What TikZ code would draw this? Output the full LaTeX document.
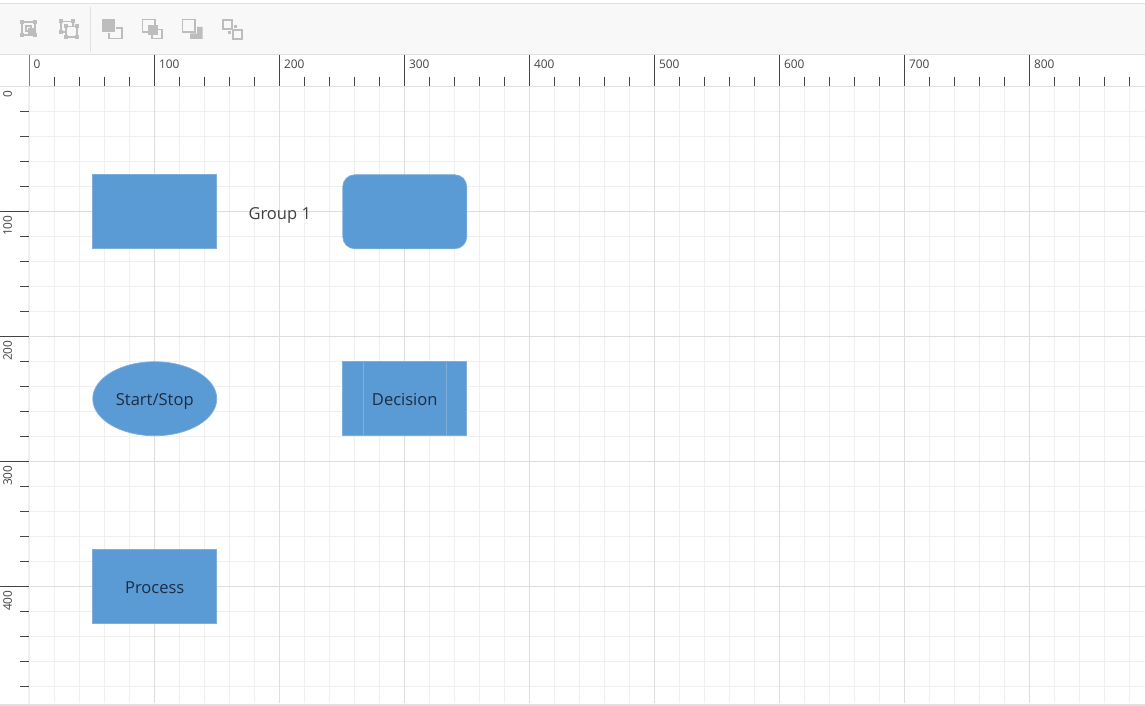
\documentclass[tikz,border=0pt]{standalone}
\usepackage{fontspec}
\setmainfont{Open Sans}
\usepackage{xcolor}
\usetikzlibrary{shapes.geometric}
\definecolor{shapeblue}{HTML}{5B9BD5}
\definecolor{shapeedge}{HTML}{7FAEDC}
\definecolor{shapetext}{HTML}{1D2C40}
\definecolor{barfill}{HTML}{F8F8F8}
\definecolor{barline}{HTML}{E0E0E0}
\definecolor{gridminor}{HTML}{EFEFEF}
\definecolor{gridmajor}{HTML}{DEDEDE}
\definecolor{tickdark}{HTML}{444444}
\definecolor{icongray}{HTML}{BDBDBD}

\begin{document}
\begin{tikzpicture}[x=0.75pt,y=-0.75pt,line cap=butt,
  flowshape/.style={fill=shapeblue,draw=shapeedge,line width=0.5pt,minimum width=93pt,minimum height=55.5pt,inner sep=0pt,outer sep=0pt,text=shapetext,font=\fontsize{12.4}{14}\selectfont,text height=13pt,text depth=2.5pt},
  rulertext/.style={inner sep=0pt,text=tickdark,font=\fontsize{8.9}{10}\selectfont},
  iconline/.style={draw=icongray,line width=0.9pt},
  iconfill/.style={fill=icongray}]
\useasboundingbox (0,0) rectangle (1145,706);
\fill[white] (0,0) rectangle (1145,706);
% toolbar
\fill[barfill] (0,4) rectangle (1145,54);
\draw[barline,line width=0.9pt] (0,3.5) -- (1145,3.5);
\draw[barline,line width=0.75pt] (0,54.5) -- (1145,54.5);
\draw[barline,line width=0.75pt] (90.5,7) -- (90.5,52);
% group icon
\draw[iconline] (22,22) rectangle (35,35);
\foreach \ix in {22,35} \foreach \iy in {22,35} \fill[iconfill] (\ix-2,\iy-2) rectangle (\ix+2,\iy+2);
\draw[iconline] (26,26) rectangle (31,31);
\draw[iconline] (29,29) rectangle (33,33);
% ungroup icon
\draw[iconline] (61,21.5) -- (73,21.5) -- (73,26);
\draw[iconline] (61,21.5) -- (61,32) -- (66,32);
\draw[iconline] (66,26.5) rectangle (77,37);
\foreach \ix/\iy in {61/21.5,73/21.5,61/32,66/26.5,77/26.5,66/37,77/37} \fill[iconfill] (\ix-2,\iy-2) rectangle (\ix+2,\iy+2);
% order icons
\fill[iconfill] (102,19) rectangle (115,32);
\draw[iconline] (116,28) -- (122,28) -- (122,38.5) -- (109,38.5) -- (109,33);
\draw[iconline] (148,32) -- (142.5,32) -- (142.5,19.5) -- (155,19.5) -- (155,25);
\fill[iconfill] (148,25) rectangle (158,35);
\draw[iconline] (158,29.5) -- (162,29.5) -- (162,38.5) -- (152,38.5) -- (152,35);
\draw[iconline] (182.5,19.5) rectangle (195,32);
\fill[iconfill] (197,27) -- (202.5,27) -- (202.5,39) -- (190,39) -- (190,33.5) -- (197,33.5) -- cycle;
\draw[iconline] (223,20) rectangle (232,29);
\fill[iconfill] (234,25) rectangle (237,28);
\fill[iconfill] (228,31) rectangle (231,34);
\draw[iconline] (233,30) rectangle (242,39);
\begin{scope}[shift={(-0.25,-0.25)}]
% grid
\foreach \gx in {30,55,...,1130} \draw[gridminor,line width=0.75pt] (\gx,87) -- (\gx,703);
\foreach \gy in {87,112,...,700} \draw[gridminor,line width=0.75pt] (30,\gy) -- (1146,\gy);
\foreach \gx in {155,280,...,1030} \draw[gridmajor,line width=0.75pt] (\gx,87) -- (\gx,703);
\foreach \gy in {212,337,462,587} \draw[gridmajor,line width=0.75pt] (30,\gy) -- (1146,\gy);
% ruler borders
\draw[barline,line width=1pt] (0,87) -- (1146,87);
\draw[gridminor,line width=1.5pt] (29.5,87) -- (29.5,704);
\fill[barline] (0,704) rectangle (1146,707);
% horizontal ruler
\draw[gray,line width=0.75pt] (30,55) -- (30,86.5);
\node[rulertext,anchor=west] (hzero) at (33.5,65) {0};
\foreach \rx/\rlabel in {155/100,280/200,405/300,530/400,655/500,780/600,905/700,1030/800} {
  \draw[tickdark,line width=0.75pt] (\rx,55) -- (\rx,86.5);
  \node[rulertext,anchor=west] (h\rlabel) at (\rx+4,65) {\rlabel};
}
\foreach \rx in {55,80,...,1130} \draw[tickdark,line width=0.75pt] (\rx,77) -- (\rx,86.5);
% vertical ruler
\node[rulertext,rotate=90,anchor=east] (vzero) at (8,90.5) {0};
\foreach \ry/\rlabel in {212/100,337/200,462/300,587/400} {
  \draw[tickdark,line width=0.75pt] (0,\ry) -- (29,\ry);
  \node[rulertext,rotate=90,anchor=east] (v\rlabel) at (8,\ry+3.5) {\rlabel};
}
\foreach \ry in {112,137,162,187,237,262,287,312,362,387,412,437,487,512,537,562,612,637,662,687} \draw[tickdark,line width=0.75pt] (20,\ry) -- (29,\ry);
% shapes
\node[flowshape] (plain) at (155,212) {};
\node[flowshape,rounded corners=9pt] (rounded) at (405,212) {};
\node[flowshape,ellipse] (startstop) at (155,399) {Start/Stop};
\node[flowshape] (decision) at (405,399) {Decision};
\draw[shapeedge,line width=0.5pt] ([xshift=15.4pt]decision.north west) -- ([xshift=15.4pt]decision.south west);
\draw[shapeedge,line width=0.5pt] ([xshift=-15.4pt]decision.north east) -- ([xshift=-15.4pt]decision.south east);
\node[flowshape] (process) at (155,587) {Process};
\node[inner sep=0pt,text=black!75,font=\fontsize{12.4}{14}\selectfont,text height=13pt,text depth=2.5pt] (group) at (280,212.5) {Group 1};
\end{scope}
\end{tikzpicture}
\end{document}
